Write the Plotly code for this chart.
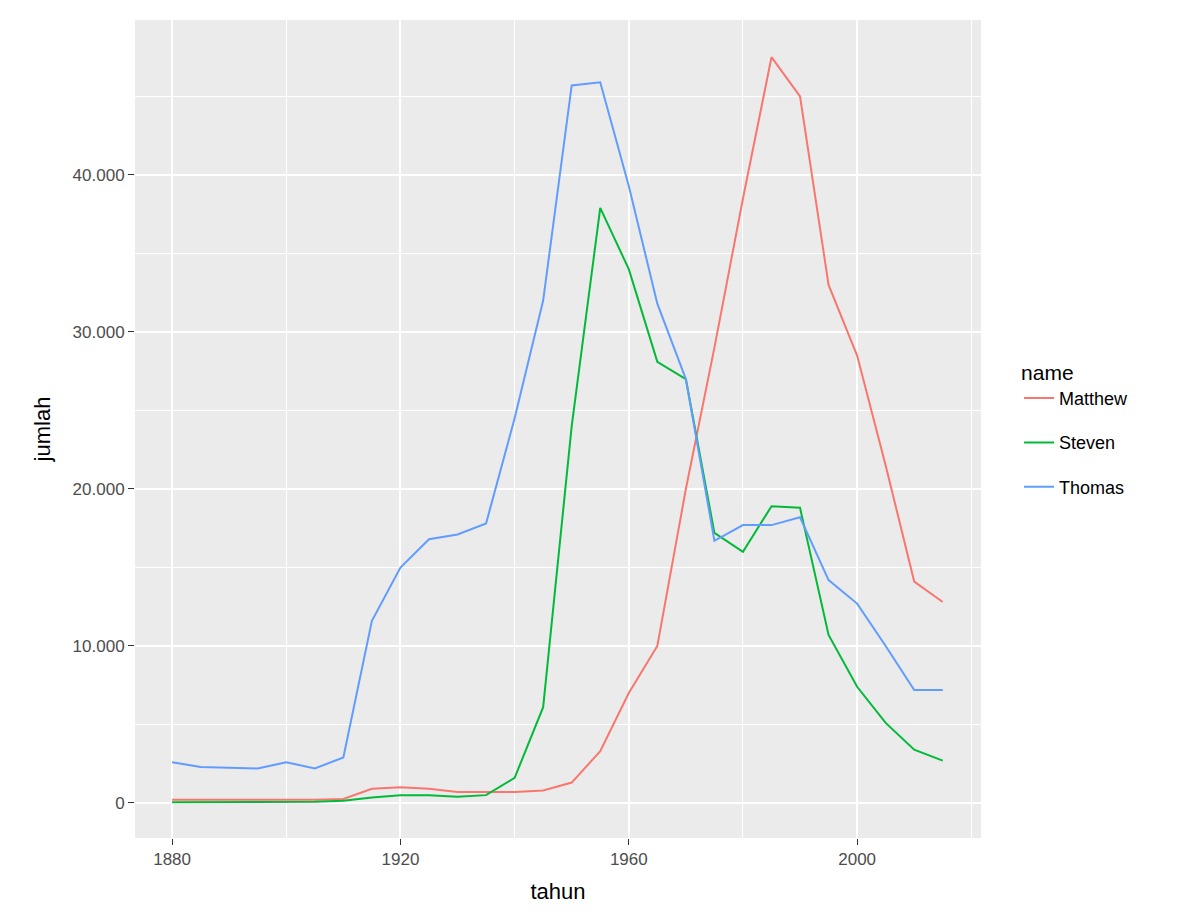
import plotly.graph_objects as go

years = list(range(1880, 2016, 5))
matthew = [200, 200, 180, 180, 200, 200, 250, 900, 1000, 900, 700, 700, 700, 800, 1300, 3300,
           7000, 10000, 20000, 29000, 38500, 47500, 45000, 33000, 28500, 21500, 14100, 12800]
steven = [50, 50, 50, 50, 80, 80, 150, 350, 500, 500, 400, 500, 1600, 6100, 24000, 37900,
          34000, 28100, 27000, 17200, 16000, 18900, 18800, 10700, 7400, 5100, 3400, 2700]
thomas = [2600, 2300, 2250, 2200, 2600, 2200, 2900, 11600, 15000, 16800, 17100, 17800, 24500, 32000,
          45700, 45900, 39300, 31800, 27000, 16700, 17700, 17700, 18200, 14200, 12700, 10000, 7200, 7200]

series = [("Matthew", matthew, "#F8766D"), ("Steven", steven, "#00BA38"), ("Thomas", thomas, "#619CFF")]

fig = go.Figure()
for name, vals, col in series:
    fig.add_trace(go.Scatter(x=years, y=vals, mode="lines", name=name, legendgroup=name,
                             line=dict(color=col, width=2)))

font = "Liberation Sans, Arial, sans-serif"
fig.update_layout(
    width=1184, height=912, paper_bgcolor="white", plot_bgcolor="#EBEBEB",
    margin=dict(l=127, r=211, t=12, b=82),
    separators=",.",
    font=dict(family=font, size=17, color="#4D4D4D"),
    legend=dict(title=dict(text="name  ", font=dict(size=21, color="black")),
                x=1.045, y=0.5, yanchor="middle", xanchor="left", traceorder="grouped",
                font=dict(size=18, color="black"), bgcolor="white", tracegroupgap=18),
    xaxis=dict(range=[1873.5, 2021.7], tickvals=[1880, 1920, 1960, 2000], automargin=False,
               showgrid=True, gridcolor="white", gridwidth=2.2, zeroline=False,
               minor=dict(tickvals=[1900, 1940, 1980, 2020], showgrid=True, gridcolor="white", gridwidth=1),
               ticks="outside", ticklen=6, tickcolor="#333333",
               title=dict(text="tahun", font=dict(size=22, color="black"))),
    yaxis=dict(range=[-2230, 49870], tickvals=[0, 10000, 20000, 30000, 40000], tickformat=",d",
               automargin=False,
               showgrid=True, gridcolor="white", gridwidth=2.2, zeroline=False,
               minor=dict(tickvals=[5000, 15000, 25000, 35000, 45000], showgrid=True, gridcolor="white", gridwidth=1),
               ticks="outside", ticklen=6, tickcolor="#333333",
               title=dict(text="jumlah", font=dict(size=22, color="black"))),
)
fig.write_html("out.html")
